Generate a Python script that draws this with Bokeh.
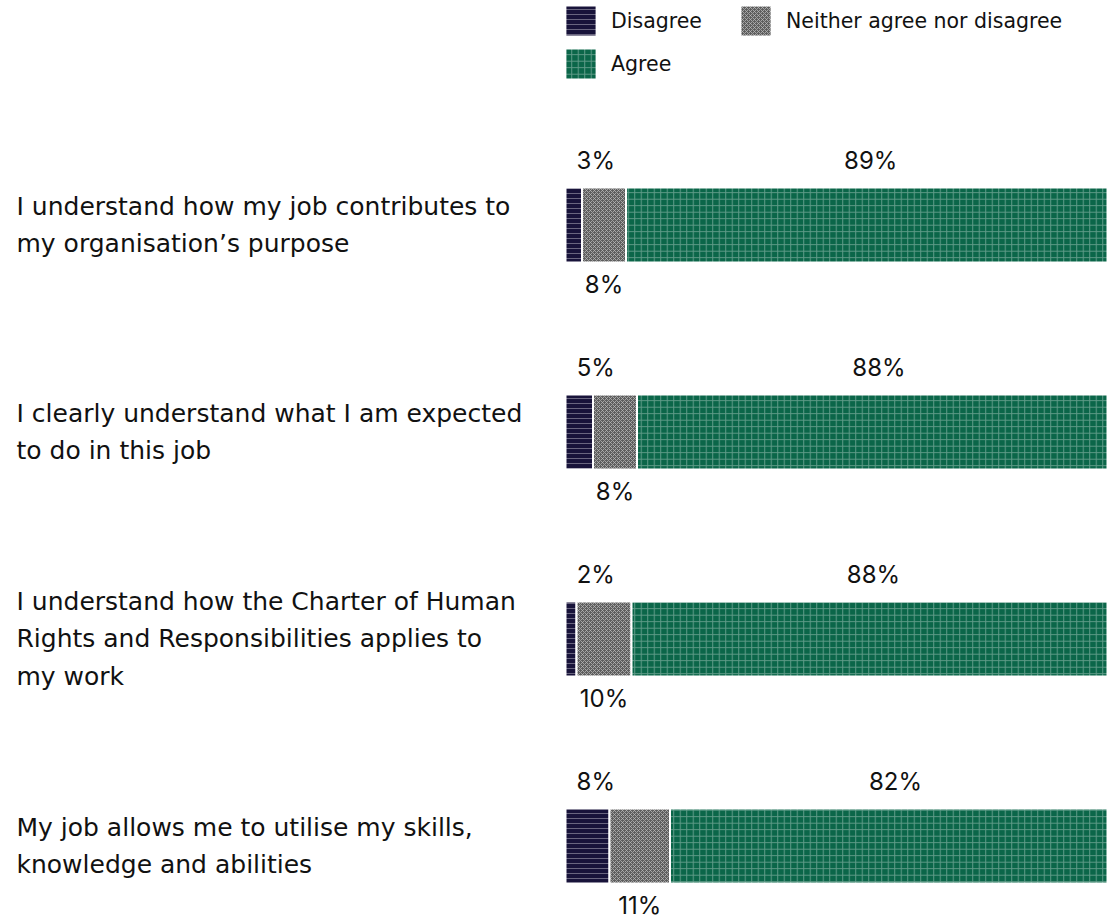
from bokeh.plotting import figure
from bokeh.models import Range1d, ColumnDataSource, Legend, LegendItem
from bokeh.core.properties import value
from bokeh.embed import file_html
from bokeh.resources import INLINE

# ---- data ----
statements = [
    "I understand how my job contributes to\nmy organisation\u2019s purpose",
    "I clearly understand what I am expected\nto do in this job",
    "I understand how the Charter of Human\nRights and Responsibilities applies to\nmy work",
    "My job allows me to utilise my skills,\nknowledge and abilities",
]
disagree = [3, 5, 2, 8]
neither = [8, 8, 10, 11]
agree = [89, 88, 88, 82]
series_names = ["Disagree", "Neither agree nor disagree", "Agree"]

# ---- layout (pixels) ----
W, H = 1107, 918
X0 = 565          # pixel position of 0 %
PX_PER_PCT = 5.5
ROW0 = 224.5      # pixel centre of first row
ROW_STEP = 207
BAR_PX = 75
FONT = "Inter"
WIDE_FONT = "DejaVu Sans"

x_start = -X0 / PX_PER_PCT
x_end = (W - X0) / PX_PER_PCT
y_top = -ROW0 / ROW_STEP
y_bottom = (H - ROW0) / ROW_STEP

p = figure(width=W, height=H, output_backend="svg", toolbar_location=None,
           x_range=Range1d(x_start, x_end), y_range=Range1d(y_bottom, y_top),
           min_border=0, outline_line_color=None)
p.axis.visible = False
p.grid.visible = False
p.background_fill_color = "white"

ys = list(range(len(statements)))
left_d = [0] * len(ys)
right_d = [d for d in disagree]
left_n = right_d
right_n = [d + n for d, n in zip(disagree, neither)]
left_a = right_n
right_a = [l + a for l, a in zip(left_a, agree)]

src = ColumnDataSource(dict(y=ys, ld=left_d, rd=right_d, ln=left_n, rn=right_n,
                            la=left_a, ra=right_a))
h = BAR_PX / ROW_STEP

r_d = p.hbar(y="y", left="ld", right="rd", height=h, source=src,
             fill_color="#18133a", line_color="white", line_width=2,
             hatch_pattern="horizontal_line", hatch_scale=5, hatch_weight=1,
             hatch_color="white", hatch_alpha=0.35)
r_n = p.hbar(y="y", left="ln", right="rn", height=h, source=src,
             fill_color="#5e5e5e", line_color="white", line_width=2,
             hatch_pattern="diagonal_cross", hatch_scale=4, hatch_weight=1,
             hatch_color="#b5b5b5", hatch_alpha=0.8)
r_a = p.hbar(y="y", left="la", right="ra", height=h, source=src,
             fill_color="#0b6649", line_color="white", line_width=2,
             hatch_pattern="cross", hatch_scale=6.5, hatch_weight=1,
             hatch_color="white", hatch_alpha=0.35)

# category labels
p.text(x=[x_start] * len(ys), y=ys, text=statements, x_offset=16,
       text_font=value(WIDE_FONT), text_font_size="25px", text_color="#111111",
       text_align="left", text_baseline="middle", text_line_height=1.29)

# value labels
lab_d_x = [max((l + r) / 2, 5.5) for l, r in zip(left_d, right_d)]
lab_n_x = [(l + r) / 2 for l, r in zip(left_n, right_n)]
lab_a_x = [(l + r) / 2 for l, r in zip(left_a, right_a)]
common = dict(text_font=value(FONT), text_font_size="24px", text_color="#111111",
              text_align="center", text_baseline="middle")
p.text(x=lab_d_x, y=ys, text=[f"{v}%" for v in disagree], y_offset=-65, **common)
p.text(x=lab_a_x, y=ys, text=[f"{v}%" for v in agree], y_offset=-65, **common)
p.text(x=lab_n_x, y=ys, text=[f"{v}%" for v in neither], y_offset=59, **common)

legend = Legend(items=[LegendItem(label=series_names[0], renderers=[r_d]),
                       LegendItem(label=series_names[1], renderers=[r_n]),
                       LegendItem(label=series_names[2], renderers=[r_a])],
                orientation="horizontal", nrows=2,
                location=(X0 - 4, H - 83), glyph_width=39, glyph_height=39,
                label_text_font=WIDE_FONT, label_text_font_size="20.5px",
                label_text_color="#111111", padding=0, spacing=4, margin=0,
                label_width=121,
                border_line_color=None, background_fill_alpha=0,
                label_standoff=11)
p.add_layout(legend, "center")

open("out.html", "w").write(file_html(p, INLINE))
